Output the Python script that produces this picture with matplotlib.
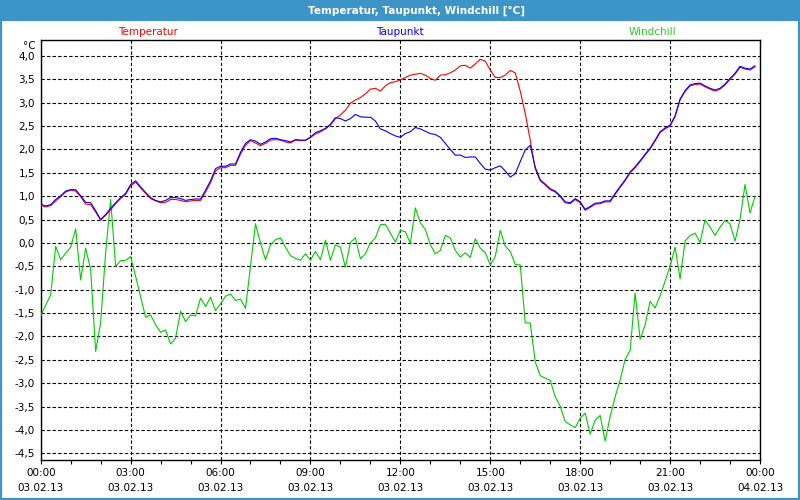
import numpy as np
import matplotlib
matplotlib.use("Agg")
import matplotlib.pyplot as plt
from matplotlib.patches import Rectangle

# ---- data (10-minute samples, 03.02.13 00:00 .. 23:50) ----
temperatur = [
    0.81, 0.77, 0.80, 0.90, 0.99, 1.09, 1.13, 1.11, 0.99, 0.83, 0.82, 0.66,
    0.49, 0.59, 0.71, 0.84, 0.95, 1.04, 1.22, 1.30, 1.18, 1.06, 0.95, 0.90,
    0.86, 0.87, 0.93, 0.93, 0.91, 0.88, 0.90, 0.91, 0.91, 1.09, 1.29, 1.54,
    1.61, 1.61, 1.66, 1.66, 1.90, 2.09, 2.19, 2.14, 2.08, 2.13, 2.20, 2.21,
    2.20, 2.16, 2.14, 2.20, 2.19, 2.19, 2.26, 2.33, 2.38, 2.44, 2.52, 2.66,
    2.74, 2.84, 2.99, 3.06, 3.11, 3.19, 3.29, 3.31, 3.25, 3.36, 3.43, 3.45,
    3.49, 3.54, 3.59, 3.61, 3.63, 3.59, 3.52, 3.48, 3.59, 3.60, 3.64, 3.70,
    3.79, 3.80, 3.74, 3.83, 3.93, 3.89, 3.70, 3.54, 3.54, 3.59, 3.69, 3.64,
    3.25, 2.77, 2.20, 1.59, 1.33, 1.24, 1.14, 1.09, 0.99, 0.86, 0.84, 0.93,
    0.86, 0.70, 0.76, 0.83, 0.84, 0.88, 0.88, 1.04, 1.19, 1.33, 1.50, 1.61,
    1.74, 1.88, 2.01, 2.18, 2.36, 2.44, 2.50, 2.70, 3.06, 3.24, 3.36, 3.39,
    3.40, 3.34, 3.29, 3.25, 3.29, 3.38, 3.50, 3.61, 3.76, 3.72, 3.70, 3.77,
]

taupunkt = [
    0.83, 0.79, 0.82, 0.93, 1.01, 1.11, 1.14, 1.14, 1.01, 0.87, 0.86, 0.69,
    0.50, 0.61, 0.74, 0.86, 0.97, 1.06, 1.25, 1.33, 1.20, 1.08, 0.97, 0.91,
    0.88, 0.91, 0.97, 0.97, 0.95, 0.91, 0.93, 0.94, 0.94, 1.13, 1.33, 1.59,
    1.64, 1.64, 1.69, 1.69, 1.94, 2.13, 2.21, 2.18, 2.11, 2.16, 2.23, 2.24,
    2.21, 2.19, 2.16, 2.21, 2.20, 2.20, 2.26, 2.36, 2.40, 2.45, 2.54, 2.68,
    2.66, 2.61, 2.66, 2.75, 2.70, 2.69, 2.69, 2.61, 2.44, 2.40, 2.34, 2.29,
    2.26, 2.34, 2.38, 2.47, 2.44, 2.39, 2.34, 2.32, 2.26, 2.13, 2.00, 1.88,
    1.88, 1.83, 1.84, 1.84, 1.70, 1.58, 1.56, 1.61, 1.65, 1.54, 1.41, 1.48,
    1.74, 1.99, 2.09, 1.62, 1.35, 1.26, 1.16, 1.11, 1.01, 0.88, 0.86, 0.95,
    0.88, 0.72, 0.78, 0.85, 0.86, 0.90, 0.90, 1.06, 1.21, 1.35, 1.52, 1.63,
    1.76, 1.90, 2.03, 2.20, 2.38, 2.46, 2.52, 2.72, 3.08, 3.26, 3.38, 3.41,
    3.42, 3.36, 3.31, 3.27, 3.31, 3.40, 3.52, 3.63, 3.78, 3.74, 3.72, 3.79,
]

windchill = [
    -1.56, -1.33, -1.11, -0.07, -0.36, -0.22, -0.09, 0.30, -0.79, -0.11, -0.57, -2.32,
    -1.70, -0.21, 0.93, -0.50, -0.38, -0.37, -0.29, -0.71, -1.15, -1.59, -1.54, -1.75,
    -1.91, -1.86, -2.16, -2.04, -1.46, -1.68, -1.54, -1.56, -1.18, -1.36, -1.16, -1.45,
    -1.30, -1.14, -1.09, -1.23, -1.20, -1.40, -0.50, 0.41, 0.00, -0.36, -0.04, 0.07,
    0.11, -0.09, -0.27, -0.33, -0.37, -0.23, -0.37, -0.18, -0.36, 0.06, -0.37, -0.04,
    -0.09, -0.52, 0.01, 0.11, -0.34, -0.23, 0.00, 0.11, 0.39, 0.40, 0.21, 0.02,
    0.27, 0.24, -0.01, 0.75, 0.43, 0.29, -0.04, -0.23, -0.16, 0.16, 0.11, -0.16,
    -0.30, -0.21, -0.31, 0.09, -0.11, -0.21, -0.47, -0.29, 0.27, -0.07, -0.18, -0.46,
    -0.47, -1.71, -1.71, -2.54, -2.84, -2.89, -2.94, -3.29, -3.49, -3.82, -3.89, -3.95,
    -3.75, -3.64, -4.09, -3.79, -3.69, -4.24, -3.71, -3.29, -2.93, -2.49, -2.30, -1.07,
    -2.06, -1.75, -1.25, -1.39, -1.13, -0.82, -0.50, -0.09, -0.77, 0.04, 0.16, 0.21,
    0.01, 0.49, 0.34, 0.16, 0.34, 0.48, 0.41, 0.04, 0.50, 1.25, 0.64, 1.00,
]

tick_times = ["00:00", "03:00", "06:00", "09:00", "12:00", "15:00", "18:00", "21:00", "00:00"]
tick_dates = ["03.02.13"] * 8 + ["04.02.13"]
y_ticks = [-4.5, -4.0, -3.5, -3.0, -2.5, -2.0, -1.5, -1.0, -0.5, 0.0,
           0.5, 1.0, 1.5, 2.0, 2.5, 3.0, 3.5, 4.0]

hours = np.arange(len(temperatur)) / 6.0

BAR = "#3d94c6"
RED = "#ff0000"
BLUE = "#0000ff"
GREEN = "#00cc00"

plt.rcParams['font.family'] = ['DejaVu Sans']

fig = plt.figure(figsize=(8, 5), dpi=100)
fig.patch.set_facecolor("white")

# title bar and outer frame
fig.patches.append(Rectangle((0, 1 - 21 / 500), 1, 21 / 500, transform=fig.transFigure,
                             facecolor=BAR, edgecolor="none", zorder=0))
fig.patches.append(Rectangle((0.001, 0.002), 0.998, 0.996, transform=fig.transFigure,
                             facecolor="none", edgecolor=BAR, linewidth=1.6, zorder=0))
fig.text(417 / 800, 1 - 10.5 / 500, "Temperatur, Taupunkt, Windchill [°C]",
         color="white", fontsize=7.5, fontweight="bold", ha="center", va="center")

# legend-like labels
fig.text(148 / 800, 1 - 32 / 500, "Temperatur", color=RED, fontsize=7.5, ha="center", va="center")
fig.text(400 / 800, 1 - 32 / 500, "Taupunkt", color=BLUE, fontsize=7.5, ha="center", va="center")
fig.text(652 / 800, 1 - 32 / 500, "Windchill", color="#22cc22", fontsize=7.5, ha="center", va="center")
fig.text(36 / 800, 1 - 46 / 500, "°C", color="black", fontsize=7.5, ha="right", va="center")

ax = fig.add_axes([40.7 / 800, 40 / 500, (760 - 40.7) / 800, 420 / 500])
ax.set_facecolor("white")

ax.plot(hours, windchill, color=GREEN, linewidth=0.8, zorder=3)
ax.plot(hours, temperatur, color=RED, linewidth=0.8, zorder=4)
ax.plot(hours, taupunkt, color=BLUE, linewidth=0.8, zorder=5)

ax.set_xlim(0, 24)
ax.set_ylim(-4.643, 4.342)

ax.set_xticks(np.arange(0, 25, 3))
ax.set_xticklabels([f"{t}\n{d}" for t, d in zip(tick_times, tick_dates)], fontsize=7.5,
                   linespacing=1.6)
ax.set_xticks(np.arange(0, 25, 1), minor=True)
ax.set_yticks(y_ticks)
ax.set_yticklabels([f"{v:.1f}".replace(".", ",") for v in y_ticks], fontsize=7.5)

ax.tick_params(axis="x", which="both", direction="out", length=3, width=0.8, pad=3)
ax.tick_params(axis="y", length=0, pad=4)

ax.grid(True, which="major", color="black", linestyle=(0, (3, 2)), linewidth=0.8)
ax.set_axisbelow(True)
for s in ax.spines.values():
    s.set_color("black")
    s.set_linewidth(1.0)

fig.savefig("out.png", dpi=100)
